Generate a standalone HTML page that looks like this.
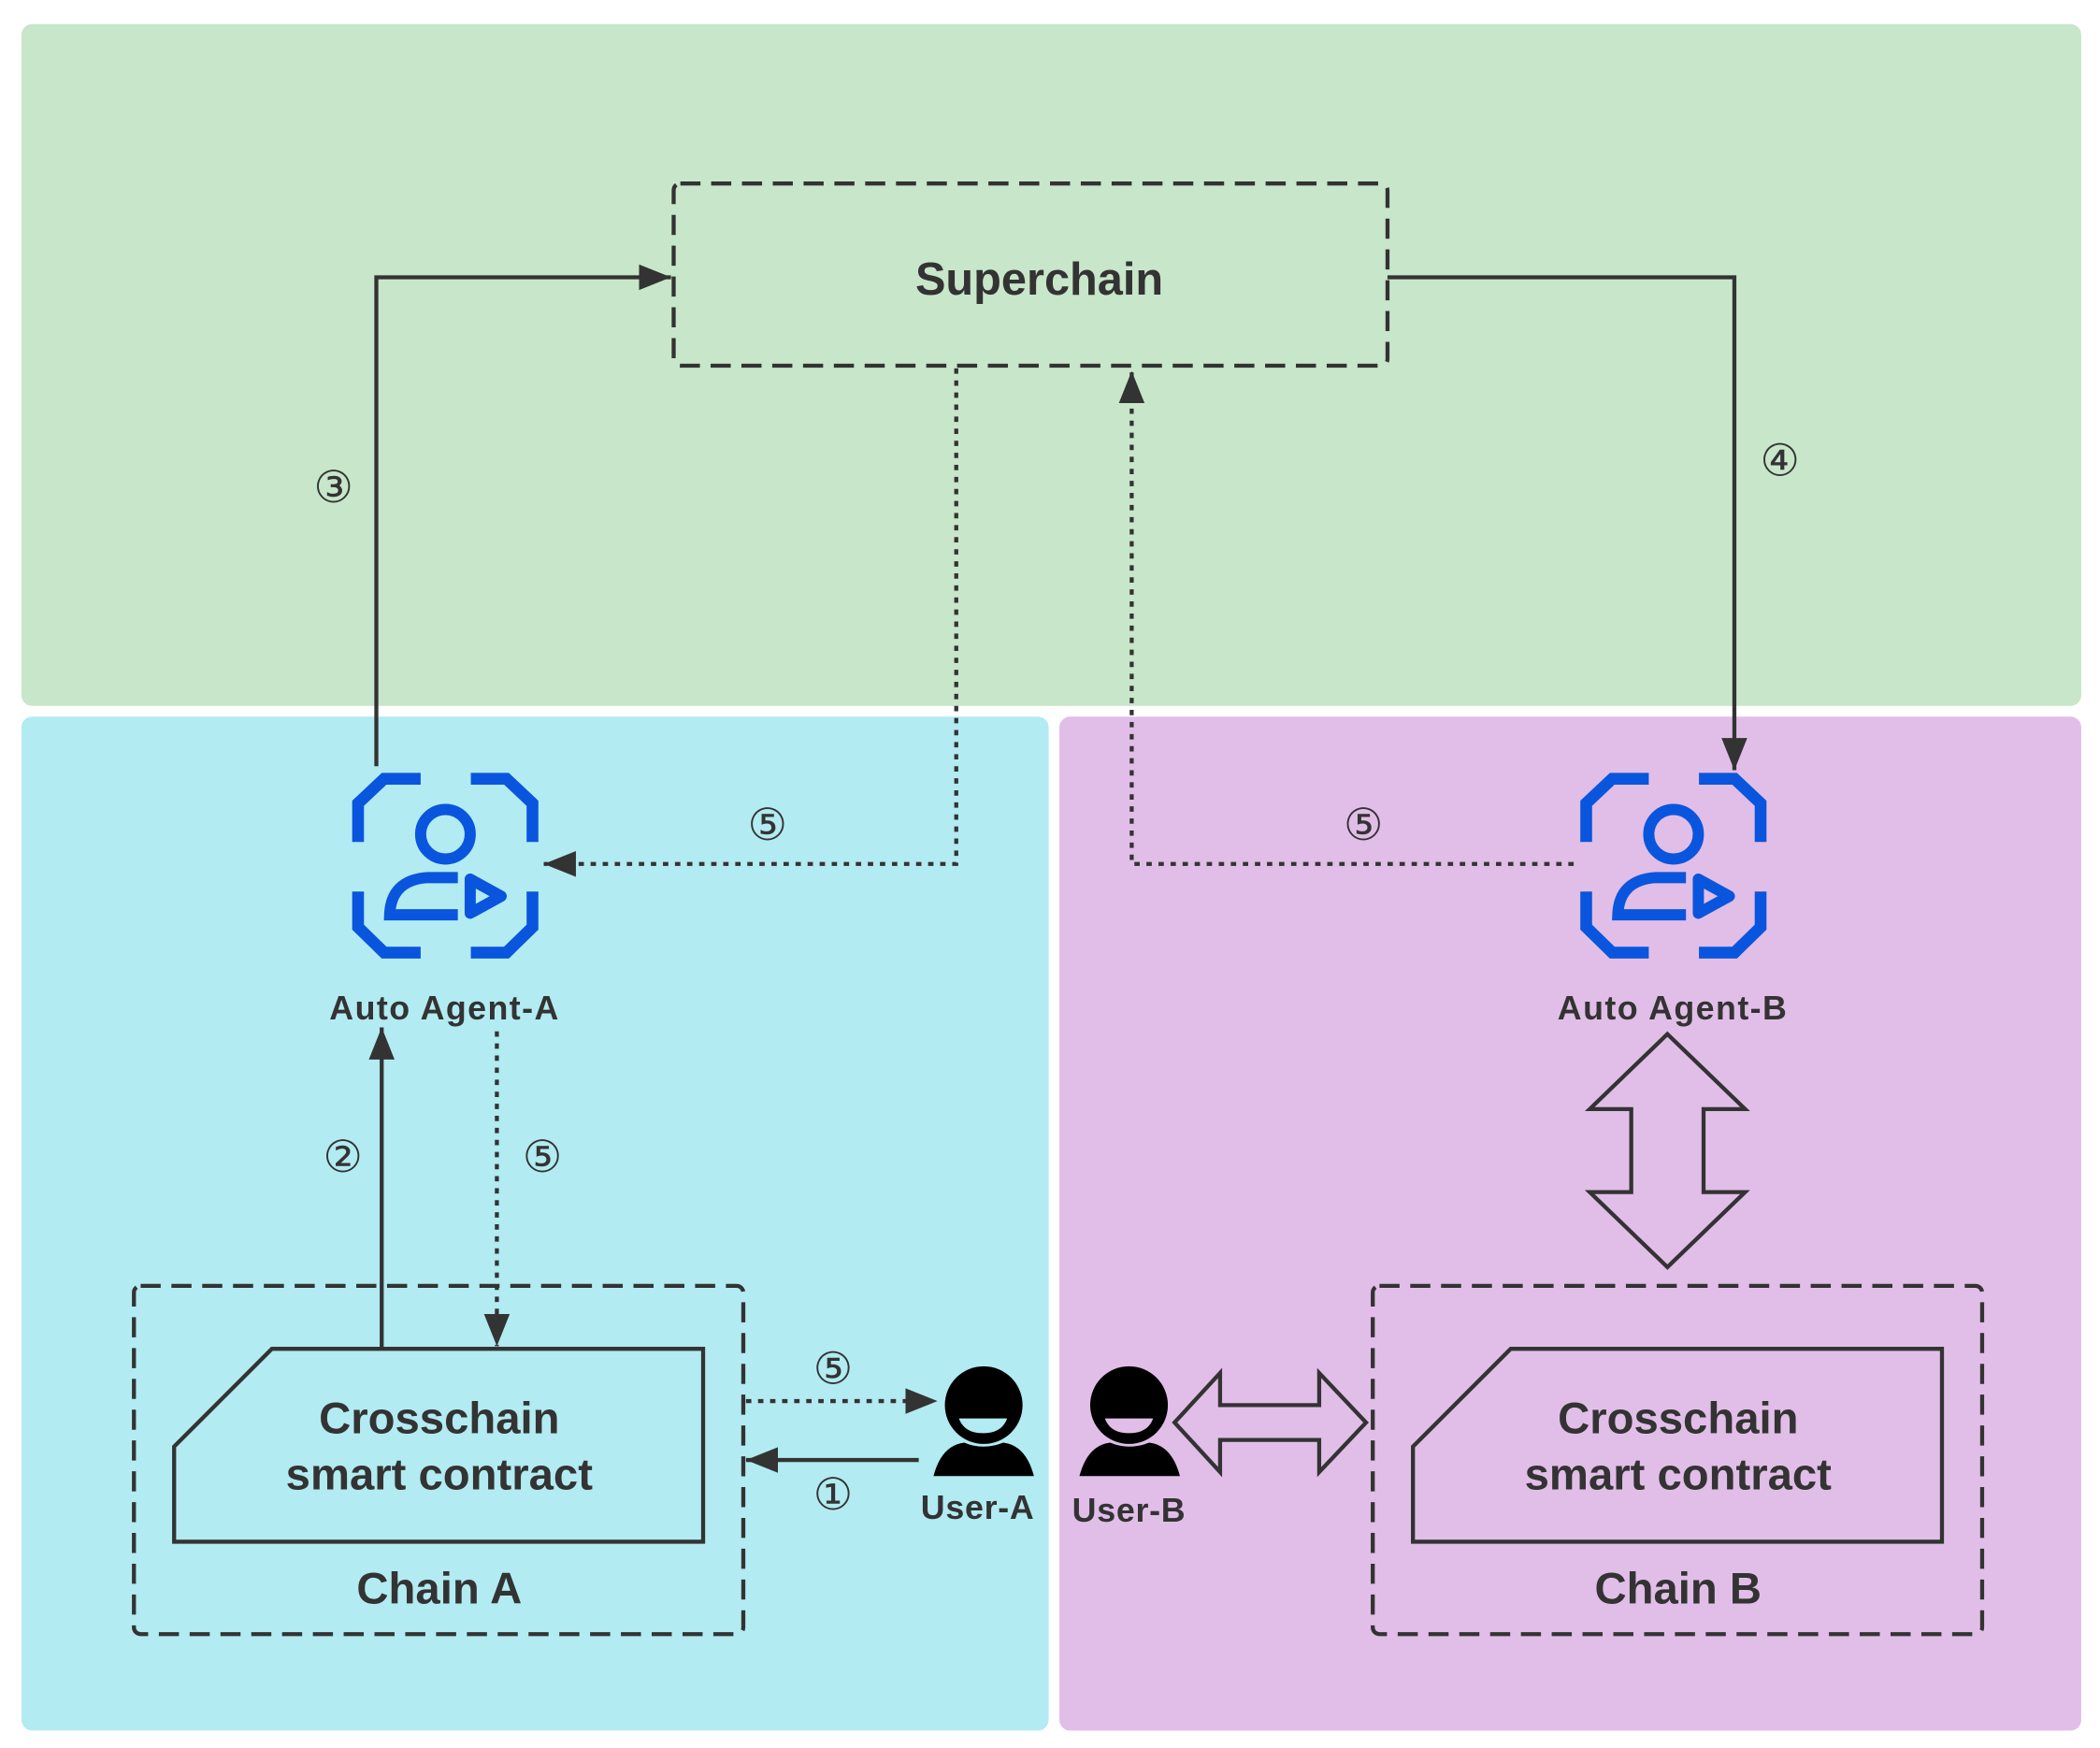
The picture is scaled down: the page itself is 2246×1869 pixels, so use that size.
<!DOCTYPE html>
<html><head><meta charset="utf-8"><style>
html,body{margin:0;padding:0;background:#fff;}
svg{display:block;}
text{font-family:"Liberation Sans","DejaVu Sans",sans-serif;fill:#333;font-weight:bold;text-anchor:middle;}
.c{font-family:"DejaVu Sans",sans-serif;font-weight:normal;}
</style></head><body>
<svg width="2246" height="1869" viewBox="0 0 1568 1305" preserveAspectRatio="none" xmlns="http://www.w3.org/2000/svg">
<defs>
<marker id="ah" viewBox="0 0 10 10" refX="10" refY="5" markerWidth="24" markerHeight="24" markerUnits="userSpaceOnUse" orient="auto">
<path d="M0,1 L10,5 L0,9 Z" fill="#333"/></marker>
<g id="agent">
<g fill="none" stroke="#0a55dd" stroke-width="38">
<path d="M66 265 V140 L150 61 H268"/>
<path d="M430 61 H545 L629 140 V265"/>
<path d="M66 425 V540 L150 622 H268"/>
<path d="M430 622 H545 L629 540 V425"/>
<circle cx="348" cy="240" r="80" stroke-width="36"/>
<path d="M388 380 H290 Q172 388 168 500 H388" stroke-width="36"/>
<path d="M428 385 L528 440 L428 495 Z" stroke-width="36" stroke-linejoin="round"/>
</g></g>
</defs>
<rect x="16" y="18" width="1538" height="509" rx="8" fill="#c8e6c9"/>
<rect x="16" y="535" width="767" height="757" rx="8" fill="#b2ebf2"/>
<rect x="791" y="535" width="763" height="757" rx="8" fill="#e1bee7"/>

<g fill="none" stroke="#333" stroke-width="3" stroke-dasharray="15 8">
<rect x="503" y="137" width="533" height="136" rx="5"/>
<rect x="100" y="960" width="455" height="260" rx="5"/>
<rect x="1025" y="960" width="455" height="260" rx="5"/>
</g>
<text x="776" y="220" font-size="34">Superchain</text>

<g fill="none" stroke="#333" stroke-width="3">
<path d="M281 572 V207 H501" marker-end="url(#ah)"/>
<path d="M1036 207 H1295 V575" marker-end="url(#ah)"/>
<path d="M285 1007 V767" marker-end="url(#ah)"/>
<path d="M686 1090 H557" marker-end="url(#ah)"/>
</g>
<g fill="none" stroke="#333" stroke-width="3" stroke-dasharray="4 5">
<path d="M714 275 V645 H406" marker-end="url(#ah)"/>
<path d="M1175 645 H845 V277" marker-end="url(#ah)"/>
<path d="M371 770 V1005" marker-end="url(#ah)"/>
<path d="M557 1046 H700" marker-end="url(#ah)"/>
</g>

<g>
<text class="c" x="249" y="375" font-size="33">③</text>
<text class="c" x="1329" y="355" font-size="33">④</text>
<text class="c" x="573" y="627" font-size="33">⑤</text>
<text class="c" x="1018" y="627" font-size="33">⑤</text>
<text class="c" x="256" y="875" font-size="33">②</text>
<text class="c" x="405" y="875" font-size="33">⑤</text>
<text class="c" x="622" y="1033" font-size="33">⑤</text>
<text class="c" x="622" y="1127" font-size="33">①</text>
</g>

<use href="#agent" transform="translate(252.1,567.3) scale(0.2313)"/>
<use href="#agent" transform="translate(1169.1,567.3) scale(0.2313)"/>
<text x="332" y="761" font-size="25" letter-spacing="1">Auto Agent-A</text>
<text x="1249" y="761" font-size="25" letter-spacing="1">Auto Agent-B</text>

<g fill="none" stroke="#333" stroke-width="3">
<path d="M130 1080 L203 1007 H525 V1151 H130 Z"/>
<path d="M1055 1080 L1128 1007 H1450 V1151 H1055 Z"/>
<path d="M1245 772 L1303 828 H1272 V890 H1303 L1245 946 L1187 890 H1218 V828 H1187 Z"/>
<path d="M877 1062 L911 1025 V1049 H985 V1025 L1020 1062 L985 1099 V1075 H911 V1099 Z"/>
</g>
<text x="328" y="1070" font-size="33">Crosschain</text>
<text x="328" y="1112" font-size="33">smart contract</text>
<text x="328" y="1197" font-size="33">Chain A</text>
<text x="1253" y="1070" font-size="33">Crosschain</text>
<text x="1253" y="1112" font-size="33">smart contract</text>
<text x="1253" y="1197" font-size="33">Chain B</text>

<g>
<circle cx="734.5" cy="1049" r="29" fill="#000"/>
<path d="M716 1059 H752 Q748 1070 734 1070 Q720 1070 716 1059 Z" fill="#b2ebf2"/>
<path d="M697 1102 Q703 1079 720 1077 Q734 1083 749 1077 Q766 1079 772 1102 Z" fill="#000"/>
<circle cx="843" cy="1049" r="29" fill="#000"/>
<path d="M825 1059 H861 Q857 1070 843 1070 Q829 1070 825 1059 Z" fill="#e1bee7"/>
<path d="M806 1102 Q812 1079 829 1077 Q843 1083 858 1077 Q875 1079 881 1102 Z" fill="#000"/>
</g>
<text x="730" y="1134" font-size="25" letter-spacing="0.5">User-A</text>
<text x="843" y="1136" font-size="25" letter-spacing="0.5">User-B</text>
</svg>
</body></html>
